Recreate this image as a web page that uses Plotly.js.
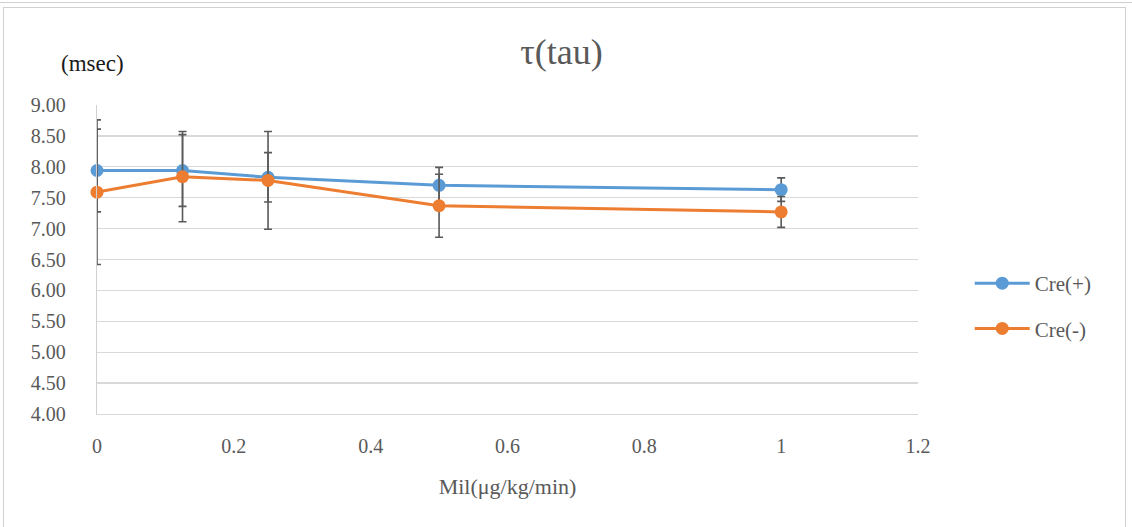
<!DOCTYPE html>
<html>
<head>
<meta charset="utf-8">
<script src="https://cdn.plot.ly/plotly-3.0.1.min.js"></script>
<style>
  html, body { margin: 0; padding: 0; background: #fff; }
  #wrap { position: relative; width: 1132px; height: 527px; overflow: hidden; }
  #frame { position: absolute; left: 3px; top: 7px; width: 1123px; height: 530px; border: 1px solid #d0d0d0; box-sizing: border-box; pointer-events: none; }
  #topline { position: absolute; left: 0; top: 0; width: 1132px; height: 3px; border-bottom: 1px solid #d0d0d0; box-sizing: border-box; pointer-events: none; }
  #chart { position: absolute; left: 0; top: 0; width: 1132px; height: 527px; }
</style>
</head>
<body>
<div id="wrap">
  <div id="chart"></div>
  <div id="topline"></div>
  <div id="frame"></div>
</div>
<script>
const doses = [0, 0.125, 0.25, 0.5, 1];
const crePlus = [7.94, 7.94, 7.83, 7.70, 7.63];
const crePlusErr = [0.67, 0.58, 0.40, 0.29, 0.19];
const creMinus = [7.59, 7.84, 7.78, 7.37, 7.27];
const creMinusErr = [1.17, 0.73, 0.79, 0.51, 0.25];
const yTicks = [4, 4.5, 5, 5.5, 6, 6.5, 7, 7.5, 8, 8.5, 9];
const xTicks = [0, 0.2, 0.4, 0.6, 0.8, 1, 1.2];

const FONT = 'Liberation Serif';
const TXT = '#595959';

const errStyle = { type: 'data', visible: true, color: '#595959', thickness: 1.6, width: 4 };

const traces = [
  {
    x: doses, y: crePlus, name: 'Cre(+)', type: 'scatter', mode: 'lines+markers',
    line: { color: '#5b9bd5', width: 3 },
    marker: { color: '#5b9bd5', size: 13 },
    error_y: Object.assign({ array: crePlusErr }, errStyle),
    cliponaxis: false, legendgroup: 'a'
  },
  {
    x: doses, y: creMinus, name: 'Cre(-)', type: 'scatter', mode: 'lines+markers',
    line: { color: '#ed7d31', width: 3 },
    marker: { color: '#ed7d31', size: 13 },
    error_y: Object.assign({ array: creMinusErr }, errStyle),
    cliponaxis: false, legendgroup: 'b'
  }
];

const layout = {
  width: 1132, height: 527,
  margin: { l: 97, r: 214, t: 105, b: 113 },
  paper_bgcolor: 'rgba(0,0,0,0)', plot_bgcolor: '#fff',
  font: { family: FONT, color: TXT, size: 18 },
  title: {
    text: 'τ(tau)', font: { family: FONT, size: 36, color: TXT },
    xref: 'container', x: 0.496, xanchor: 'center',
    yref: 'container', y: 1 - 51 / 527, yanchor: 'middle'
  },
  xaxis: {
    range: [0, 1.2], tickvals: xTicks, ticktext: xTicks.map(String),
    showgrid: false, zeroline: false, showline: true, linecolor: '#d9d9d9', linewidth: 1.3,
    ticks: '', ticklabelstandoff: 14,
    tickfont: { family: FONT, size: 20, color: TXT },
    title: { text: 'Mil(μg/kg/min)', font: { family: FONT, size: 22, color: TXT }, standoff: 22 }
  },
  yaxis: {
    range: [4, 9], tickvals: yTicks, ticktext: yTicks.map(v => v.toFixed(2)),
    showgrid: true, gridcolor: '#d9d9d9', gridwidth: 1.3,
    zeroline: false, showline: true, linecolor: '#d0d0d0', linewidth: 1.3,
    ticks: '', ticklabelstandoff: 26,
    tickfont: { family: FONT, size: 20, color: TXT }
  },
  showlegend: true,
  legend: {
    x: 1.063, xanchor: 'left', y: (414 - 263) / 309, yanchor: 'top',
    font: { family: FONT, size: 21, color: TXT },
    tracegroupgap: 15, itemwidth: 55, bgcolor: 'rgba(0,0,0,0)'
  },
  annotations: [
    {
      text: '(msec)', xref: 'paper', yref: 'paper',
      x: (92 - 97) / 821, y: (414 - 64) / 309, xanchor: 'center', yanchor: 'middle',
      showarrow: false, font: { family: FONT, size: 23, color: '#1a1a1a' }
    }
  ]
};

Plotly.newPlot('chart', traces, layout, { displayModeBar: false, staticPlot: true });
</script>
</body>
</html>
